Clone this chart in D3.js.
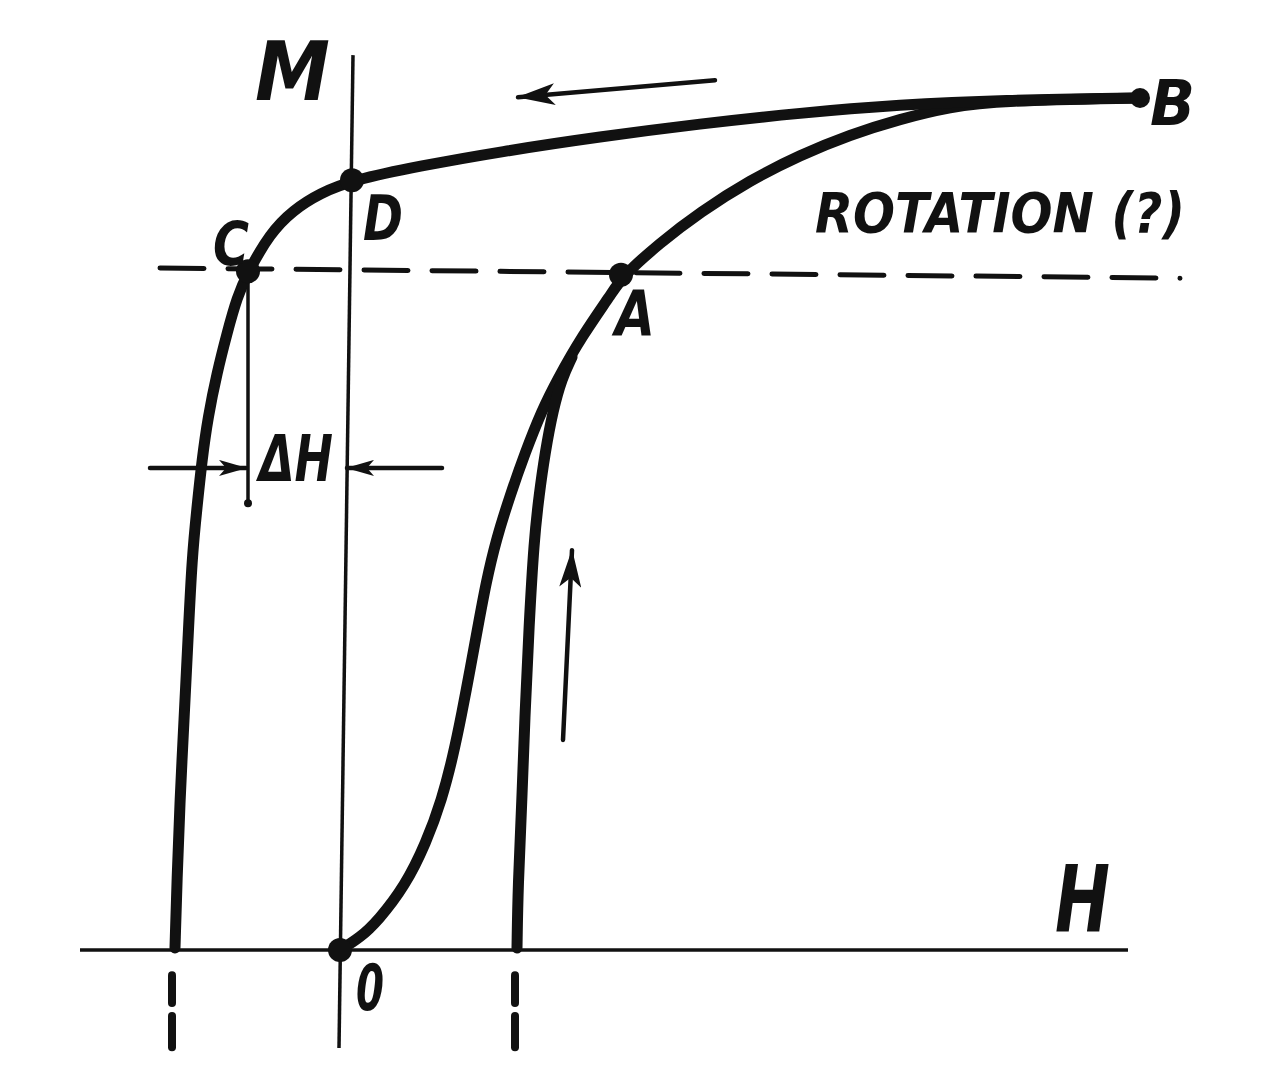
<!DOCTYPE html>
<html>
<head>
<meta charset="utf-8">
<script src="https://cdn.jsdelivr.net/npm/d3@7"></script>
<style>
  html, body { margin: 0; padding: 0; background: #fff; }
  svg { display: block; }
  text { font-family: "DejaVu Sans", sans-serif; font-weight: bold; font-style: italic; fill: #111; }
</style>
</head>
<body>
<svg id="chart" width="1281" height="1085"></svg>
<script>
// ---- data (H, M in arbitrary units; M = 1 at the dashed level) ----
const initialCurve = [
  [0,0],[0.20,0.018],[0.38,0.043],[0.65,0.094],[0.86,0.157],[1.02,0.222],
  [1.13,0.285],[1.22,0.349],[1.30,0.412],[1.38,0.476],[1.46,0.540],[1.56,0.603],
  [1.70,0.668],[1.85,0.731],[2.02,0.794],[2.17,0.838],[2.42,0.903],[2.72,0.966],
  [2.82,0.990],[3.20,1.040],[3.60,1.085],[4.10,1.132],[4.60,1.169],[5.10,1.199],
  [5.60,1.222],[6.10,1.240],[6.60,1.249],[8.00,1.253]
];
const recoilCurve = [
  [1.77,0.003],[1.78,0.094],[1.82,0.222],[1.85,0.349],[1.89,0.476],[1.94,0.603],
  [1.99,0.668],[2.05,0.731],[2.13,0.794],[2.22,0.841],[2.32,0.872]
];
const descendingCurve = [
  [8.00,1.253],[6.60,1.250],[5.60,1.243],[4.60,1.231],[3.60,1.215],[2.60,1.196],
  [1.60,1.174],[0.80,1.153],[0.12,1.132],[-0.20,1.113],[-0.47,1.088],[-0.70,1.054],
  [-0.92,0.997],[-1.03,0.960],[-1.13,0.907],[-1.23,0.849],[-1.32,0.784],[-1.38,0.721],
  [-1.43,0.651],[-1.48,0.578],[-1.52,0.456],[-1.56,0.338],[-1.60,0.221],[-1.63,0.103],
  [-1.65,0.003]
];
const keyPoints = [
  {name:"O", H:0.00, M:0.000, r:12},
  {name:"A", H:2.81, M:0.993, r:12},
  {name:"B", H:8.00, M:1.253, r:10},
  {name:"C", H:-0.92, M:0.998, r:12},
  {name:"D", H:0.12, M:1.132, r:12}
];
const hAxis = [[-2.60,0.0],[7.88,0.0]];
const mAxis = [[0.13,1.316],[-0.01,-0.144]];
const dashedLevel = [[-1.80,1.003],[8.40,0.988]];
const coerciveTicks = [-1.68, 1.75];
const tickSegments = [[-0.037,-0.078],[-0.097,-0.143]];
const deltaHDrop = [[-0.92,1.0],[-0.92,0.657]];
const deltaHArrows = [
  [[-1.90,0.709],[-0.94,0.709]],
  [[1.02,0.709],[0.07,0.709]]
];
const directionArrows = [
  [[3.75,1.279],[1.78,1.254]],
  [[2.23,0.309],[2.32,0.588]]
];
// labels: text, anchor (H,M at baseline-left), size, width
const labels = [
  {t:"M",  H:-0.85, M:1.250, size:82, w:75},
  {t:"H",  H:7.15,  M:0.026, size:92, w:55},
  {t:"B",  H:8.10,  M:1.213, size:62, w:45},
  {t:"D",  H:0.23,  M:1.044, size:62, w:40},
  {t:"C",  H:-1.27, M:1.007, size:60, w:36},
  {t:"A",  H:2.75,  M:0.904, size:62, w:40},
  {t:"0",  H:0.16,  M:-0.088, size:64, w:28},
  {t:"ΔH", H:-0.81, M:0.689, size:64, w:74},
  {t:"ROTATION (?)", H:4.75, M:1.056, size:56, w:370}
];

// ---- scales ----
const x = d3.scaleLinear().domain([0, 1]).range([340, 440]);
const y = d3.scaleLinear().domain([0, 1]).range([950, 270]);

const svg = d3.select("#chart");
const defs = svg.append("defs");
function addMarker(id, len, wid) {
  defs.append("marker")
    .attr("id", id).attr("viewBox", `0 0 ${len} ${wid}`).attr("refX", len - 1).attr("refY", wid / 2)
    .attr("markerWidth", len).attr("markerHeight", wid).attr("markerUnits", "userSpaceOnUse")
    .attr("orient", "auto")
    .append("path").attr("d", `M0,0 L${len},${wid/2} L0,${wid} L${len*0.25},${wid/2} Z`).attr("fill", "#111");
}
addMarker("arrowS", 28, 16);
addMarker("arrowL", 38, 22);

const line = d3.line().x(d => x(d[0])).y(d => y(d[1]));
const smooth = d3.line().x(d => x(d[0])).y(d => y(d[1])).curve(d3.curveBasis);

// axes
svg.append("path").attr("d", line(hAxis)).attr("stroke","#111").attr("stroke-width",3.5).attr("fill","none");
svg.append("path").attr("d", line(mAxis)).attr("stroke","#111").attr("stroke-width",3.5).attr("fill","none");

// dashed level
svg.append("path").attr("d", line(dashedLevel)).attr("stroke","#111").attr("stroke-width",5)
  .attr("stroke-dasharray","44,24").attr("stroke-linecap","round").attr("fill","none");

// coercive ticks below the axis
coerciveTicks.forEach(h => {
  tickSegments.forEach(seg => {
    svg.append("path").attr("d", line([[h, seg[0]],[h, seg[1]]]))
      .attr("stroke","#111").attr("stroke-width",8).attr("stroke-linecap","round");
  });
});

// ΔH construction
svg.append("path").attr("d", line(deltaHDrop)).attr("stroke","#111").attr("stroke-width",3.5).attr("fill","none");
svg.append("circle").attr("cx", x(deltaHDrop[1][0])).attr("cy", y(deltaHDrop[1][1])).attr("r", 4).attr("fill", "#111");
deltaHArrows.forEach(a => {
  svg.append("path").attr("d", line(a)).attr("stroke","#111").attr("stroke-width",4.5)
    .attr("fill","none").attr("stroke-linecap","round").attr("marker-end","url(#arrowS)");
});

// curves
[initialCurve, recoilCurve, descendingCurve].forEach(c => {
  svg.append("path").attr("d", smooth(c)).attr("stroke","#111").attr("stroke-width",11)
    .attr("fill","none").attr("stroke-linecap","round").attr("stroke-linejoin","round");
});

// direction arrows
directionArrows.forEach(a => {
  svg.append("path").attr("d", line(a)).attr("stroke","#111").attr("stroke-width",4.5)
    .attr("fill","none").attr("stroke-linecap","round").attr("marker-end","url(#arrowL)");
});

// key points
svg.selectAll("circle.kp").data(keyPoints).enter().append("circle")
  .attr("class","kp").attr("cx", d => x(d.H)).attr("cy", d => y(d.M)).attr("r", d => d.r).attr("fill","#111");

// labels
svg.selectAll("text.lbl").data(labels).enter().append("text")
  .attr("class","lbl").attr("x", d => x(d.H)).attr("y", d => y(d.M))
  .attr("font-size", d => d.size)
  .attr("textLength", d => d.w).attr("lengthAdjust","spacingAndGlyphs")
  .text(d => d.t);
</script>
</body>
</html>
